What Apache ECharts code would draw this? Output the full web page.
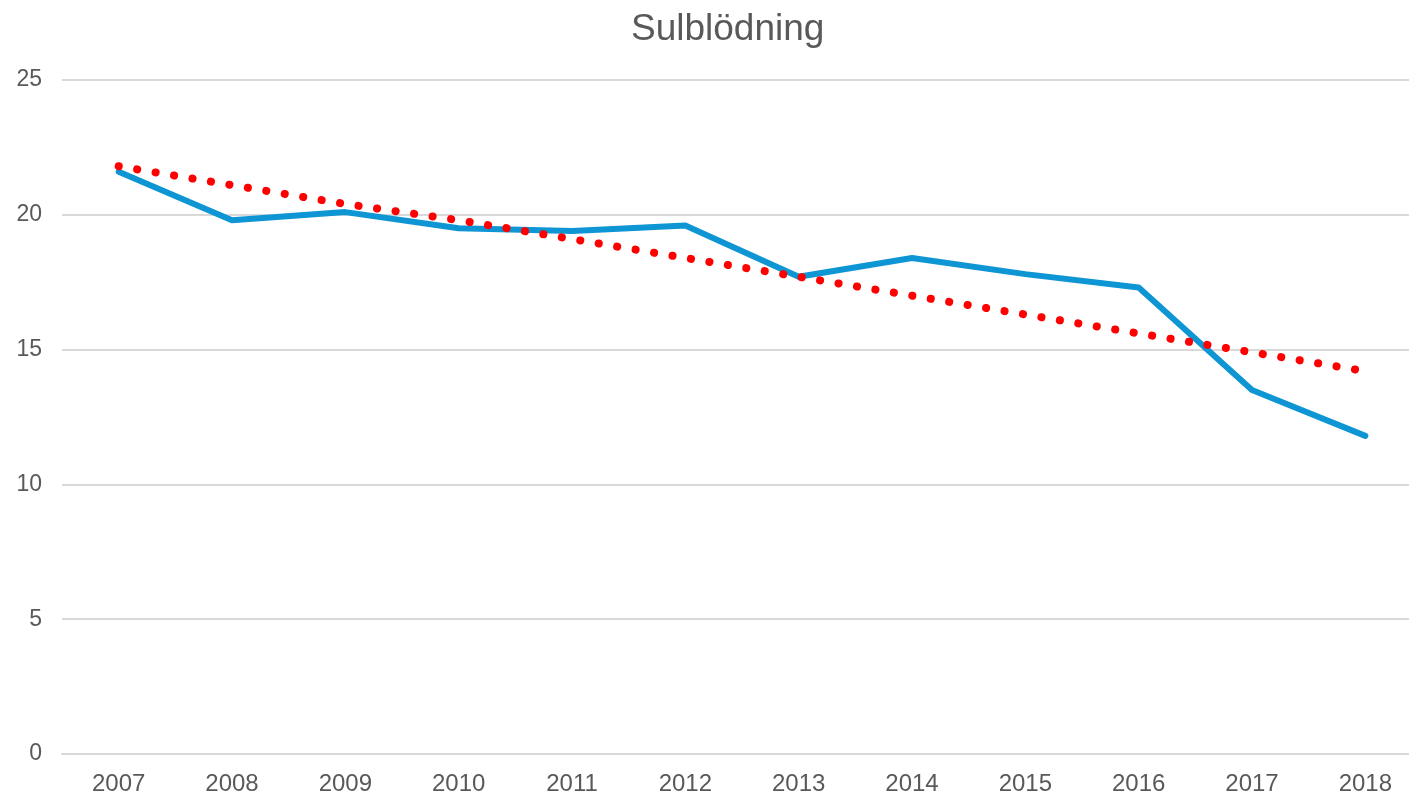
<!DOCTYPE html>
<html>
<head>
<meta charset="utf-8">
<script src="https://cdn.jsdelivr.net/npm/echarts@6/dist/echarts.min.js"></script>
<style>
  html, body { margin: 0; padding: 0; background: #fff; overflow: hidden; }
  /* the plot area runs a little past the right edge of the picture */
  #chart { width: 1422px; height: 796px; }
</style>
</head>
<body>
<div id="chart"></div>
<script>
const years = ['2007', '2008', '2009', '2010', '2011', '2012', '2013', '2014', '2015', '2016', '2017', '2018'];
const sulblodning = [21.6, 19.8, 20.1, 19.5, 19.4, 19.6, 17.7, 18.4, 17.8, 17.3, 13.5, 11.8];
// linear trend
const trend = [21.8, 21.1, 20.4, 19.8, 19.1, 18.4, 17.7, 17.0, 16.3, 15.6, 14.9, 14.2];
const yTicks = { min: 0, max: 25, interval: 5 };

const font = 'Arial, "Liberation Sans", sans-serif';
const chart = echarts.init(document.getElementById('chart'));

chart.setOption({
  animation: false,
  title: {
    text: 'Sulblödning',
    left: 626,
    top: 6,
    textStyle: { fontFamily: font, fontSize: 37, fontWeight: 'normal', color: '#595959' },
  },
  grid: { left: 62, right: 0, top: 80, bottom: 38, containLabel: false },
  xAxis: {
    type: 'category',
    data: years,
    boundaryGap: true,
    axisLine: { show: true, lineStyle: { color: '#d9d9d9', width: 2 } },
    axisTick: { show: false },
    axisLabel: { color: '#595959', fontFamily: font, fontSize: 24, margin: 18 },
  },
  yAxis: {
    type: 'value',
    min: yTicks.min,
    max: yTicks.max,
    interval: yTicks.interval,
    axisLine: { show: false },
    axisTick: { show: false },
    axisLabel: { color: '#595959', fontFamily: font, fontSize: 23, margin: 20 },
    splitLine: { lineStyle: { color: '#d9d9d9', width: 2 } },
  },
  series: [
    {
      name: 'Sulblödning',
      type: 'line',
      data: sulblodning,
      symbol: 'none',
      lineStyle: { color: '#0E95D3', width: 6, cap: 'round', join: 'round' },
      z: 2,
    },
    {
      name: 'Trend',
      type: 'line',
      data: trend,
      symbol: 'none',
      lineStyle: { color: '#FF0000', width: 8, type: [0.1, 18.6], cap: 'round' },
      z: 3,
    },
  ],
});
</script>
</body>
</html>
